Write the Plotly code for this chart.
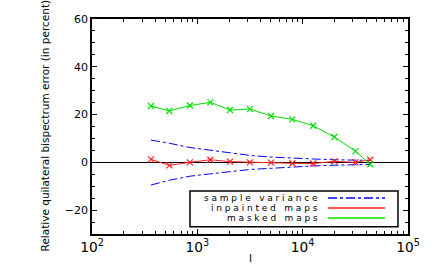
import plotly.graph_objects as go

ell = [363, 542, 850, 1330, 2045, 3160, 5010, 7980, 12600, 20000, 31700, 43800]
masked = [23.6, 21.5, 23.8, 25.1, 21.9, 22.3, 19.4, 18.0, 15.3, 10.6, 4.7, -0.8]
inpainted = [1.25, -1.25, 0.0, 1.1, 0.3, 0.0, -0.1, -0.4, -0.5, 0.4, 0.0, 1.1]
sv_upper = [9.3, 8.0, 6.2, 5.0, 3.8, 2.9, 2.2, 1.7, 1.4, 1.1, 0.9, 0.8]
sv_lower = [-9.5, -7.5, -5.8, -4.7, -3.9, -3.0, -2.4, -1.9, -1.5, -1.2, -1.0, -0.9]
legend_labels = ["sample variance", "inpainted maps", "masked maps"]

BLUE = "#0000ff"
RED = "#ff2020"
GREEN = "#00e000"
FONT = "DejaVu Sans"

fig = go.Figure()
fig.add_trace(go.Scatter(x=ell, y=sv_upper, mode="lines",
                         line=dict(color=BLUE, width=1, dash="dashdot")))
fig.add_trace(go.Scatter(x=ell, y=sv_lower, mode="lines",
                         line=dict(color=BLUE, width=1, dash="dashdot")))
fig.add_trace(go.Scatter(x=ell, y=inpainted, mode="lines+markers",
                         line=dict(color=RED, width=1),
                         marker=dict(symbol="x-thin", size=6, color=RED,
                                     line=dict(color=RED, width=1.2))))
fig.add_trace(go.Scatter(x=ell, y=masked, mode="lines+markers",
                         line=dict(color=GREEN, width=1),
                         marker=dict(symbol="x-thin", size=6, color=GREEN,
                                     line=dict(color=GREEN, width=1.2))))

# manual legend (text right-aligned, sample line on the right)
box_x0, box_x1 = (190 - 92) / 316, (398 - 92) / 316
box_y0, box_y1 = (234 - 226.7) / 215, (234 - 191) / 215
fig.add_shape(type="rect", xref="paper", yref="paper",
              x0=box_x0, x1=box_x1, y0=box_y0, y1=box_y1,
              line=dict(color="black", width=1.5), fillcolor="white")
row_y = [198.0, 208.0, 218.0]
styles = [(BLUE, "dashdot"), (RED, "solid"), (GREEN, "solid")]
for lab, ry, (col, dash) in zip(legend_labels, row_y, styles):
    yp = (234 - ry) / 215
    fig.add_annotation(xref="paper", yref="paper", x=(321 - 92) / 316, y=yp,
                       text='<span style="letter-spacing:2.8px">' + lab + '</span>',
                       showarrow=False, xanchor="right", yanchor="middle",
                       borderpad=0, font=dict(family=FONT, size=9, color="black"))
    fig.add_shape(type="line", xref="paper", yref="paper",
                  x0=(328 - 92) / 316, x1=(385 - 92) / 316, y0=yp, y1=yp,
                  line=dict(color=col, width=1.5, dash=dash))

fig.add_annotation(xref="paper", yref="paper", x=-0.174, y=0.505,
                   text="Relative quilateral bispectrum error (in percent)",
                   textangle=-90, showarrow=False,
                   font=dict(family=FONT, size=10.5, color="black"))
fig.add_annotation(xref="paper", yref="paper", x=0.5, y=-0.112,
                   text="l", showarrow=False, yanchor="middle",
                   font=dict(family=FONT, size=11, color="black"))

axis_common = dict(showline=True, linecolor="black", linewidth=1.5, mirror="ticks",
                   ticks="inside", ticklen=5, tickcolor="black", tickwidth=1,
                   showgrid=False, tickfont=dict(family=FONT, size=11, color="black"))
fig.update_xaxes(type="log", range=[2, 5], dtick=1, exponentformat="power",
                 minor=dict(ticks="inside", ticklen=3, tickcolor="black", dtick="D1",
                            showgrid=False),
                 **axis_common)
fig.update_yaxes(range=[-30, 60], dtick=20, tick0=0, zeroline=True, zerolinecolor="black",
                 zerolinewidth=1.2,
                 minor=dict(ticks="inside", ticklen=3, tickcolor="black", dtick=5,
                            showgrid=False),
                 **axis_common)

fig.update_layout(width=436, height=273, margin=dict(l=92, r=28, t=19, b=39),
                  paper_bgcolor="white", plot_bgcolor="white", showlegend=False,
                  font=dict(family=FONT, color="black"))
fig.write_html("out.html", config={"displayModeBar": False},
               post_script="document.body.style.margin='0px';document.body.style.padding='0px';")
